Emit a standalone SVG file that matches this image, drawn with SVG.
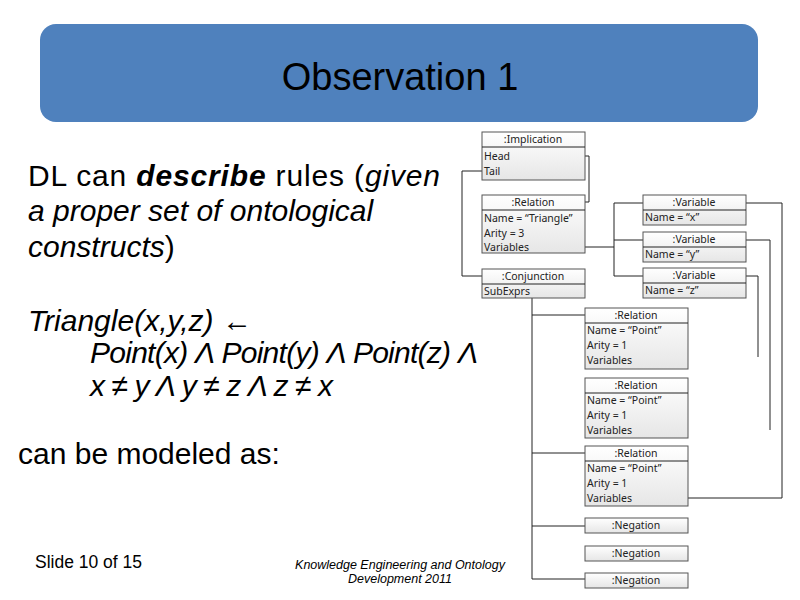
<svg xmlns="http://www.w3.org/2000/svg" width="800" height="600" viewBox="0 0 800 600">
<defs><linearGradient id="g" x1="0" y1="0" x2="0" y2="1"><stop offset="0" stop-color="#ffffff"/><stop offset="1" stop-color="#e6e6e6"/></linearGradient></defs>
<style>
.t{font-family:"Liberation Sans",Arial,sans-serif;fill:#000}
.b{fill:url(#g);stroke:#555;stroke-width:1}
.u{font-family:"Noto Sans","DejaVu Sans",sans-serif;font-size:10.5px;fill:#222}
.c{fill:none;stroke:#222;stroke-width:1}
</style>
<rect width="800" height="600" fill="#fff"/>
<g id="title"><rect x="40" y="24" width="718" height="98" rx="16" fill="#4f81bd"/><text class="t" x="400" y="90" font-size="38" text-anchor="middle">Observation 1</text></g>
<g id="body" class="t" font-size="30">
<text x="28" y="186" textLength="412">DL can <tspan font-weight="bold" font-style="italic">describe</tspan> rules (<tspan font-style="italic">given</tspan></text>
<text x="28" y="221" font-style="italic">a proper set of ontological</text>
<text x="28" y="257"><tspan font-style="italic">constructs</tspan>)</text>
<text x="28" y="331" font-style="italic">Triangle(x,y,z) ←</text>
<text x="90" y="363" font-style="italic" textLength="388">Point(x) Λ Point(y) Λ Point(z) Λ</text>
<text x="90" y="396" font-style="italic" textLength="243">x ≠ y Λ y ≠ z Λ z ≠ x</text>
<text x="18" y="464">can be modeled as:</text>
<text x="35" y="568" font-size="17.5">Slide 10 of 15</text>
<text x="400" y="569" font-size="12.5" font-style="italic" text-anchor="middle">Knowledge Engineering and Ontology</text>
<text x="400" y="583" font-size="12.5" font-style="italic" text-anchor="middle">Development 2011</text>
</g>
<g id="connectors" class="c">
<path d="M585 156H589V202H585"/>
<path d="M482 171H462V276H482"/>
<path d="M585 247H614M614 203V276M614 203H643M614 240H643M614 276H643"/>
<path d="M746 203H782V498H688"/>
<path d="M746 240H770V430"/>
<path d="M746 276H758V357"/>
<path d="M532 297V579M532 315H585M532 453H585M532 526H585M532 579H585"/>
</g>
<g id="implication"><rect class="b" x="482" y="132" width="103" height="48"/><line class="c" x1="482" y1="147" x2="585" y2="147" stroke="#555"/><text class="u" x="533" y="143" text-anchor="middle">:Implication</text><text class="u" x="484" y="160">Head</text><text class="u" x="484" y="175">Tail</text></g>
<g id="rel-triangle"><rect class="b" x="482" y="195" width="103" height="58"/><line class="c" x1="482" y1="210" x2="585" y2="210"/><text class="u" x="533" y="206" text-anchor="middle">:Relation</text><text class="u" x="484" y="222">Name = “Triangle”</text><text class="u" x="484" y="237">Arity = 3</text><text class="u" x="484" y="251">Variables</text></g>
<g id="conjunction"><rect class="b" x="482" y="269" width="103" height="29"/><line class="c" x1="482" y1="284" x2="585" y2="284"/><text class="u" x="533" y="280" text-anchor="middle">:Conjunction</text><text class="u" x="484" y="295">SubExprs</text></g>
<g id="var-x"><rect class="b" x="643" y="195" width="103" height="30"/><line class="c" x1="643" y1="210" x2="746" y2="210"/><text class="u" x="694" y="206" text-anchor="middle">:Variable</text><text class="u" x="645" y="221">Name = “x”</text></g>
<g id="var-y"><rect class="b" x="643" y="232" width="103" height="30"/><line class="c" x1="643" y1="247" x2="746" y2="247"/><text class="u" x="694" y="243" text-anchor="middle">:Variable</text><text class="u" x="645" y="258">Name = “y”</text></g>
<g id="var-z"><rect class="b" x="643" y="268" width="103" height="30"/><line class="c" x1="643" y1="283" x2="746" y2="283"/><text class="u" x="694" y="279" text-anchor="middle">:Variable</text><text class="u" x="645" y="294">Name = “z”</text></g>
<g id="rel-p1"><rect class="b" x="585" y="308" width="103" height="61"/><line class="c" x1="585" y1="323" x2="688" y2="323"/><text class="u" x="636" y="319" text-anchor="middle">:Relation</text><text class="u" x="587" y="334">Name = “Point”</text><text class="u" x="587" y="349">Arity = 1</text><text class="u" x="587" y="364">Variables</text></g>
<g id="rel-p2"><rect class="b" x="585" y="378" width="103" height="60"/><line class="c" x1="585" y1="393" x2="688" y2="393"/><text class="u" x="636" y="389" text-anchor="middle">:Relation</text><text class="u" x="587" y="404">Name = “Point”</text><text class="u" x="587" y="419">Arity = 1</text><text class="u" x="587" y="434">Variables</text></g>
<g id="rel-p3"><rect class="b" x="585" y="446" width="103" height="60"/><line class="c" x1="585" y1="461" x2="688" y2="461"/><text class="u" x="636" y="457" text-anchor="middle">:Relation</text><text class="u" x="587" y="472">Name = “Point”</text><text class="u" x="587" y="487">Arity = 1</text><text class="u" x="587" y="502">Variables</text></g>
<g id="neg1"><rect class="b" x="585" y="518" width="103" height="15"/><text class="u" x="636" y="529" text-anchor="middle">:Negation</text></g>
<g id="neg2"><rect class="b" x="585" y="546" width="103" height="15"/><text class="u" x="636" y="557" text-anchor="middle">:Negation</text></g>
<g id="neg3"><rect class="b" x="585" y="573" width="103" height="15"/><text class="u" x="636" y="584" text-anchor="middle">:Negation</text></g>
</svg>
